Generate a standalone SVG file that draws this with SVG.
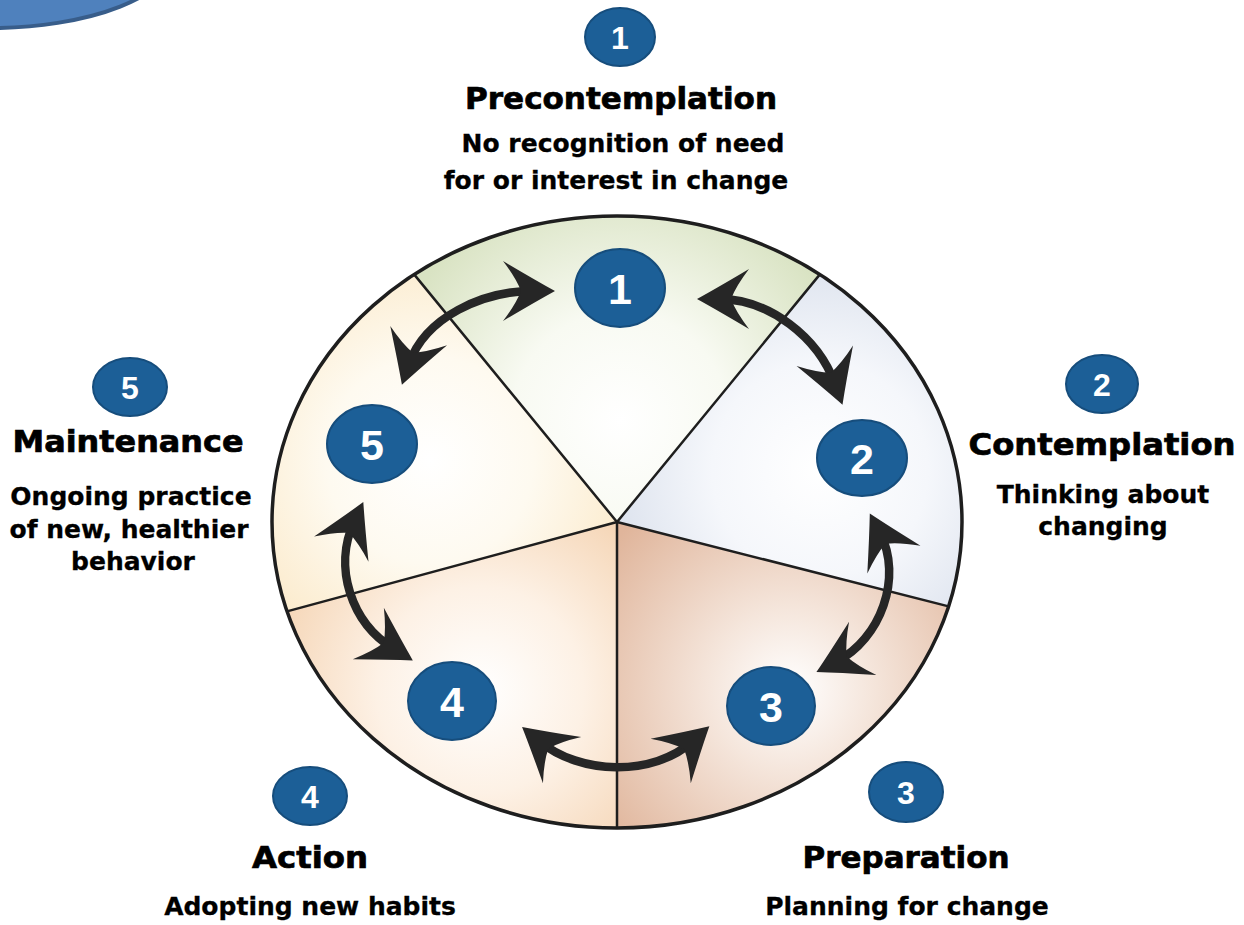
<svg xmlns="http://www.w3.org/2000/svg" width="1244" height="925" viewBox="0 0 1244 925">
<style>
.title{font-family:"DejaVu Sans","Liberation Sans",sans-serif;font-weight:bold;font-size:30px;fill:#000;stroke:#000;stroke-width:0.7;text-anchor:middle}
.sub{font-family:"DejaVu Sans","Liberation Sans",sans-serif;font-weight:bold;font-size:25px;fill:#000;stroke:#000;stroke-width:0.3;text-anchor:middle}
.badge{fill:#1c5f97;stroke:#164d7c;stroke-width:2}
.numL{font-family:"Liberation Sans",Arial,sans-serif;font-weight:bold;font-size:43px;fill:#fff;text-anchor:middle}
.numS{font-family:"Liberation Sans",Arial,sans-serif;font-weight:bold;font-size:32px;fill:#fff;text-anchor:middle}
.div{fill:none;stroke:#1e1e1e;stroke-width:2.5}
.arrow{fill:none;stroke:#262626;stroke-width:8.5;marker-start:url(#ah);marker-end:url(#ah)}
</style>
<defs>
<marker id="ah" viewBox="-56 -33 58 66" refX="-22" refY="0" markerWidth="58" markerHeight="66" markerUnits="userSpaceOnUse" orient="auto-start-reverse">
<path d="M0,0 Q-20,-11 -52,-30 Q-39,-13 -34,0 Q-39,13 -52,30 Q-20,11 0,0 Z" fill="#262626"/>
</marker>
<radialGradient id="g1" gradientUnits="userSpaceOnUse" cx="620" cy="420" r="240">
<stop offset="0" stop-color="#ffffff"/><stop offset="0.45" stop-color="#f8faf2"/><stop offset="1" stop-color="#d9e3c3"/>
</radialGradient>
<radialGradient id="g2" gradientUnits="userSpaceOnUse" cx="820" cy="470" r="240">
<stop offset="0" stop-color="#ffffff"/><stop offset="0.45" stop-color="#f5f7fb"/><stop offset="1" stop-color="#d6ddea"/>
</radialGradient>
<radialGradient id="g3" gradientUnits="userSpaceOnUse" cx="790" cy="690" r="230">
<stop offset="0" stop-color="#ffffff"/><stop offset="0.35" stop-color="#f5e6dc"/><stop offset="1" stop-color="#e0b59b"/>
</radialGradient>
<radialGradient id="g4" gradientUnits="userSpaceOnUse" cx="480" cy="690" r="230">
<stop offset="0" stop-color="#ffffff"/><stop offset="0.45" stop-color="#fdf1e5"/><stop offset="1" stop-color="#f4d2b0"/>
</radialGradient>
<radialGradient id="g5" gradientUnits="userSpaceOnUse" cx="430" cy="460" r="230">
<stop offset="0" stop-color="#ffffff"/><stop offset="0.45" stop-color="#fefaf0"/><stop offset="1" stop-color="#fbe8c6"/>
</radialGradient>
</defs>

<rect width="1244" height="925" fill="#ffffff"/>

<g id="corner-shape">
<ellipse cx="-10" cy="-45" rx="184" ry="73" fill="#4f81bd" stroke="#385d8a" stroke-width="4"/>
</g>

<g id="wheel">
<path id="wedge1" d="M617,522 L414.1,274.4 A345,306 0 0 1 819.9,274.4 Z" fill="url(#g1)"/>
<path id="wedge2" d="M617,522 L819.9,274.4 A345,306 0 0 1 948.6,606.4 Z" fill="url(#g2)"/>
<path id="wedge3" d="M617,522 L948.6,606.4 A345,306 0 0 1 617,828 Z" fill="url(#g3)"/>
<path id="wedge4" d="M617,522 L617,828 A345,306 0 0 1 287,611.4 Z" fill="url(#g4)"/>
<path id="wedge5" d="M617,522 L287,611.4 A345,306 0 0 1 414.1,274.4 Z" fill="url(#g5)"/>
<path class="div" d="M414.1,274.4 L617,522 L819.9,274.4 M617,522 L948.6,606.4 M617,522 L617,828 M617,522 L287,611.4"/>
<ellipse cx="617" cy="522" rx="345" ry="306" fill="none" stroke="#1e1e1e" stroke-width="3.5"/>
</g>

<g id="connectors">
<path class="arrow" d="M409,364 C425,317 483,291 533,291"/>
<path class="arrow" d="M719,299 C769,299 818,337 835,384"/>
<path class="arrow" d="M880,533 C903,577 881,639 836,662"/>
<path class="arrow" d="M539,741 C580,775 653,777 693,741"/>
<path class="arrow" d="M354,522 C333,567 351,623 394,649"/>
</g>

<g id="stage1">
<ellipse class="badge" cx="620" cy="288" rx="45" ry="39"/>
<text class="numL" x="620" y="303.5">1</text>
<ellipse class="badge" cx="620" cy="37" rx="35" ry="29"/>
<text class="numS" x="620" y="48.5">1</text>
<text class="title" x="621" y="109" textLength="312" lengthAdjust="spacingAndGlyphs">Precontemplation</text>
<text class="sub" x="623" y="152">No recognition of need</text>
<text class="sub" x="616" y="189">for or interest in change</text>
</g>

<g id="stage2">
<ellipse class="badge" cx="862" cy="458" rx="45" ry="38"/>
<text class="numL" x="862" y="473.5">2</text>
<ellipse class="badge" cx="1102" cy="384" rx="36" ry="29"/>
<text class="numS" x="1102" y="395.5">2</text>
<text class="title" x="1102" y="455" textLength="267" lengthAdjust="spacingAndGlyphs">Contemplation</text>
<text class="sub" x="1103" y="503">Thinking about</text>
<text class="sub" x="1103" y="535">changing</text>
</g>

<g id="stage3">
<ellipse class="badge" cx="771" cy="706" rx="44" ry="39"/>
<text class="numL" x="771" y="721.5">3</text>
<ellipse class="badge" cx="906" cy="792" rx="37" ry="30"/>
<text class="numS" x="906" y="803.5">3</text>
<text class="title" x="906" y="868" textLength="207" lengthAdjust="spacingAndGlyphs">Preparation</text>
<text class="sub" x="907" y="915">Planning for change</text>
</g>

<g id="stage4">
<ellipse class="badge" cx="452" cy="701" rx="44" ry="39"/>
<text class="numL" x="452" y="716.5">4</text>
<ellipse class="badge" cx="310" cy="796" rx="37" ry="29"/>
<text class="numS" x="310" y="807.5">4</text>
<text class="title" x="310" y="868" textLength="116" lengthAdjust="spacingAndGlyphs">Action</text>
<text class="sub" x="310" y="915">Adopting new habits</text>
</g>

<g id="stage5">
<ellipse class="badge" cx="372" cy="444" rx="45" ry="39"/>
<text class="numL" x="372" y="459.5">5</text>
<ellipse class="badge" cx="130" cy="387" rx="37" ry="29"/>
<text class="numS" x="130" y="398.5">5</text>
<text class="title" x="128" y="452" textLength="231" lengthAdjust="spacingAndGlyphs">Maintenance</text>
<text class="sub" x="131" y="505">Ongoing practice</text>
<text class="sub" x="129" y="538">of new, healthier</text>
<text class="sub" x="133" y="570">behavior</text>
</g>
</svg>
